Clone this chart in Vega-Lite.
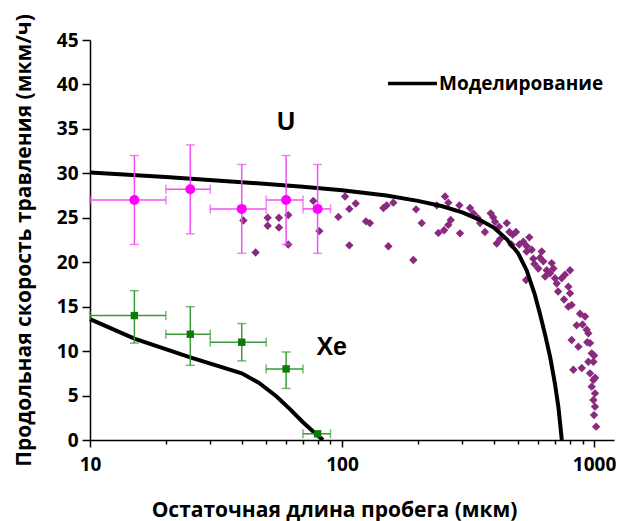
{
  "$schema": "https://vega.github.io/schema/vega-lite/v6.json",
  "width": 524,
  "height": 400,
  "autosize": {"type": "none"},
  "padding": {"left": 90, "top": 40, "right": 5, "bottom": 81},
  "background": "white",
  "config": {
    "view": {"stroke": null},
    "font": "Open Sans",
    "axis": {
      "grid": false,
      "domainColor": "black",
      "domainWidth": 1.5,
      "tickColor": "black",
      "tickWidth": 1.5,
      "labelColor": "black",
      "labelFont": "Open Sans",
      "labelFontWeight": "bold",
      "labelFontSize": 19,
      "titleColor": "black",
      "titleFont": "Open Sans",
      "titleFontWeight": "bold",
      "titleFontSize": 21
    }
  },
  "datasets": {
    "model": [
      {"series": "U", "label": "Моделирование", "x": 10, "y": 30.1},
      {"series": "U", "label": "Моделирование", "x": 20, "y": 29.6},
      {"series": "U", "label": "Моделирование", "x": 40, "y": 29.0},
      {"series": "U", "label": "Моделирование", "x": 70, "y": 28.5},
      {"series": "U", "label": "Моделирование", "x": 100, "y": 28.1},
      {"series": "U", "label": "Моделирование", "x": 150, "y": 27.5},
      {"series": "U", "label": "Моделирование", "x": 200, "y": 26.9},
      {"series": "U", "label": "Моделирование", "x": 250, "y": 26.3},
      {"series": "U", "label": "Моделирование", "x": 300, "y": 25.6},
      {"series": "U", "label": "Моделирование", "x": 350, "y": 24.8},
      {"series": "U", "label": "Моделирование", "x": 400, "y": 23.9},
      {"series": "U", "label": "Моделирование", "x": 450, "y": 22.6},
      {"series": "U", "label": "Моделирование", "x": 500, "y": 21.0},
      {"series": "U", "label": "Моделирование", "x": 540, "y": 19.1},
      {"series": "U", "label": "Моделирование", "x": 580, "y": 16.5},
      {"series": "U", "label": "Моделирование", "x": 610, "y": 14.2},
      {"series": "U", "label": "Моделирование", "x": 640, "y": 11.8},
      {"series": "U", "label": "Моделирование", "x": 670, "y": 9.3},
      {"series": "U", "label": "Моделирование", "x": 700, "y": 6.3},
      {"series": "U", "label": "Моделирование", "x": 722, "y": 3.7},
      {"series": "U", "label": "Моделирование", "x": 745, "y": 0},
      {"series": "Xe", "label": "Моделирование", "x": 10, "y": 13.6},
      {"series": "Xe", "label": "Моделирование", "x": 15, "y": 11.4},
      {"series": "Xe", "label": "Моделирование", "x": 25, "y": 9.3},
      {"series": "Xe", "label": "Моделирование", "x": 40, "y": 7.5},
      {"series": "Xe", "label": "Моделирование", "x": 47, "y": 6.4},
      {"series": "Xe", "label": "Моделирование", "x": 55, "y": 4.9},
      {"series": "Xe", "label": "Моделирование", "x": 62, "y": 3.5},
      {"series": "Xe", "label": "Моделирование", "x": 70, "y": 2.0},
      {"series": "Xe", "label": "Моделирование", "x": 78, "y": 0.8},
      {"series": "Xe", "label": "Моделирование", "x": 84, "y": 0}
    ],
    "uScatter": [
      {"x": 40.6, "y": 24.7}, {"x": 45.4, "y": 21.1}, {"x": 50.7, "y": 25.0}, {"x": 50.7, "y": 24.1},
      {"x": 56.2, "y": 25.0}, {"x": 56.2, "y": 23.9}, {"x": 61.2, "y": 25.3}, {"x": 61.2, "y": 22.0},
      {"x": 76.9, "y": 26.9}, {"x": 81.3, "y": 23.5}, {"x": 96.7, "y": 25.1}, {"x": 102.8, "y": 27.4},
      {"x": 106.9, "y": 26.0}, {"x": 106.9, "y": 21.9}, {"x": 113.3, "y": 26.6}, {"x": 124.5, "y": 24.6},
      {"x": 129, "y": 24.4}, {"x": 152.7, "y": 21.8}, {"x": 145.9, "y": 26.1}, {"x": 150.4, "y": 26.4},
      {"x": 159.8, "y": 26.7}, {"x": 191.9, "y": 20.25}, {"x": 196.7, "y": 25.95}, {"x": 207.1, "y": 24.4},
      {"x": 237.6, "y": 26.4}, {"x": 256.4, "y": 27.4}, {"x": 264.2, "y": 26.7}, {"x": 241.1, "y": 23.3},
      {"x": 254, "y": 23.6}, {"x": 264, "y": 24.2}, {"x": 270, "y": 24.75}, {"x": 293.8, "y": 23.25},
      {"x": 292.2, "y": 26.4}, {"x": 322, "y": 26.1}, {"x": 332, "y": 25.5}, {"x": 353, "y": 24.4},
      {"x": 369, "y": 23.4}, {"x": 389, "y": 25.5}, {"x": 398, "y": 25.05}, {"x": 404.6, "y": 24.55},
      {"x": 411, "y": 22.1}, {"x": 424, "y": 22.6}, {"x": 450.5, "y": 24.4}, {"x": 461.4, "y": 23.4},
      {"x": 475.7, "y": 23.1}, {"x": 490, "y": 23.4}, {"x": 524, "y": 22.3}, {"x": 540.7, "y": 21.8},
      {"x": 553.6, "y": 22.8}, {"x": 537, "y": 18.0}, {"x": 540, "y": 21.2}, {"x": 566, "y": 21.4},
      {"x": 574, "y": 20.4}, {"x": 601, "y": 19.3}, {"x": 620, "y": 21.2}, {"x": 629, "y": 20.1},
      {"x": 649, "y": 19.1}, {"x": 669, "y": 18.75}, {"x": 679, "y": 19.9}, {"x": 690, "y": 19.3},
      {"x": 700, "y": 18.2}, {"x": 711, "y": 17.6}, {"x": 744, "y": 18.2}, {"x": 767, "y": 18.6},
      {"x": 803, "y": 19.1}, {"x": 791, "y": 17.25}, {"x": 803, "y": 16.5}, {"x": 815, "y": 15.2},
      {"x": 791, "y": 15.0}, {"x": 853, "y": 12.9}, {"x": 921, "y": 13.9}, {"x": 935, "y": 12.4},
      {"x": 949, "y": 12.0}, {"x": 815, "y": 11.25}, {"x": 867, "y": 10.5}, {"x": 964, "y": 10.9},
      {"x": 979, "y": 9.75}, {"x": 949, "y": 8.8}, {"x": 994, "y": 8.8}, {"x": 894, "y": 8.1},
      {"x": 828, "y": 7.9}, {"x": 964, "y": 7.5}, {"x": 994, "y": 6.75}, {"x": 979, "y": 6.0},
      {"x": 1009, "y": 5.25}, {"x": 994, "y": 4.5}, {"x": 1019, "y": 1.5}, {"x": 1009, "y": 3.75},
      {"x": 345, "y": 25.0}, {"x": 420, "y": 24.0}, {"x": 470, "y": 22.0}, {"x": 505, "y": 22.0},
      {"x": 580, "y": 19.8}, {"x": 610, "y": 20.5}, {"x": 640, "y": 18.4}, {"x": 720, "y": 16.7},
      {"x": 760, "y": 15.8}, {"x": 880, "y": 14.2}, {"x": 900, "y": 13.0}, {"x": 940, "y": 11.0},
      {"x": 1000, "y": 9.5}, {"x": 1010, "y": 7.0}, {"x": 1000, "y": 2.8}
    ],
    "ions": [
      {"ion": "U", "x": 15, "xLo": 10, "xHi": 20, "y": 27.0, "yLo": 22.0, "yHi": 32.0},
      {"ion": "U", "x": 25, "xLo": 20, "xHi": 30, "y": 28.2, "yLo": 23.2, "yHi": 33.2},
      {"ion": "U", "x": 40, "xLo": 30, "xHi": 50, "y": 26.0, "yLo": 21.0, "yHi": 31.0},
      {"ion": "U", "x": 60, "xLo": 50, "xHi": 70, "y": 27.0, "yLo": 22.0, "yHi": 32.0},
      {"ion": "U", "x": 80, "xLo": 70, "xHi": 90, "y": 26.0, "yLo": 21.0, "yHi": 31.0},
      {"ion": "Xe", "x": 15, "xLo": 10, "xHi": 20, "y": 14.0, "yLo": 10.9, "yHi": 16.8},
      {"ion": "Xe", "x": 25, "xLo": 20, "xHi": 30, "y": 11.9, "yLo": 8.4, "yHi": 15.0},
      {"ion": "Xe", "x": 40, "xLo": 30, "xHi": 50, "y": 11.0, "yLo": 8.9, "yHi": 13.1},
      {"ion": "Xe", "x": 60, "xLo": 50, "xHi": 70, "y": 8.0, "yLo": 5.8, "yHi": 9.9},
      {"ion": "Xe", "x": 80, "xLo": 70, "xHi": 90, "y": 0.7, "yLo": 0.7, "yHi": 0.7}
    ],
    "ionLabels": [
      {"x": 60, "y": 35.8, "text": "U"},
      {"x": 91, "y": 10.5, "text": "Xe"}
    ]
  },
  "layer": [
    {
      "data": {"name": "uScatter"},
      "mark": {"type": "point", "shape": "diamond", "filled": true, "size": 70, "color": "#8a2a7e", "opacity": 1},
      "encoding": {
        "x": {
          "field": "x", "type": "quantitative",
          "title": "Остаточная длина пробега (мкм)",
          "scale": {"type": "log", "domain": [10, 1200], "nice": false},
          "axis": {
            "values": [10, 20, 30, 40, 50, 60, 70, 80, 90, 100, 200, 300, 400, 500, 600, 700, 800, 900, 1000],
            "format": "d",
            "labelExpr": "(datum.value == 10 || datum.value == 100 || datum.value == 1000) ? datum.label : ''",
            "tickSize": {"condition": {"test": "datum.value == 10 || datum.value == 100 || datum.value == 1000", "value": 7}, "value": 4},
            "labelPadding": 8,
            "labelFlush": false,
            "labelOverlap": false,
            "titlePadding": 25,
            "titleX": 244
          }
        },
        "y": {
          "field": "y", "type": "quantitative",
          "title": "Продольная скорость травления (мкм/ч)",
          "scale": {"domain": [0, 45], "nice": false},
          "axis": {
            "values": [0, 2.5, 5, 7.5, 10, 12.5, 15, 17.5, 20, 22.5, 25, 27.5, 30, 32.5, 35, 37.5, 40, 42.5, 45],
            "labelExpr": "datum.value % 5 == 0 ? datum.label : ''",
            "tickSize": {"condition": {"test": "datum.value % 5 == 0", "value": 8}, "value": 4},
            "labelPadding": 4,
            "labelOverlap": false,
            "titlePadding": 22
          }
        }
      }
    },
    {
      "data": {"name": "model"},
      "mark": {"type": "line", "strokeWidth": 4, "strokeCap": "butt"},
      "encoding": {
        "x": {"field": "x", "type": "quantitative", "title": "Остаточная длина пробега (мкм)"},
        "y": {"field": "y", "type": "quantitative", "title": "Продольная скорость травления (мкм/ч)"},
        "detail": {"field": "series"},
        "color": {
          "field": "label", "type": "nominal",
          "scale": {"domain": ["Моделирование"], "range": ["black"]},
          "legend": {
            "title": null,
            "orient": "none",
            "legendX": 296,
            "legendY": 17,
            "padding": 0,
            "symbolType": "stroke",
            "symbolSize": 2400,
            "symbolStrokeWidth": 3.5,
            "labelFont": "Open Sans",
            "labelFontWeight": "bold",
            "labelFontSize": 19,
            "labelColor": "black",
            "labelOffset": 0,
            "labelLimit": 400
          }
        }
      }
    },
    {
      "data": {"name": "ions"},
      "transform": [{"filter": "datum.ion == 'U'"}],
      "mark": {"type": "errorbar", "color": "#f050f0", "thickness": 1.5, "ticks": {"size": 9, "thickness": 1.5, "color": "#f050f0"}},
      "encoding": {
        "x": {"field": "x", "type": "quantitative", "title": "Остаточная длина пробега (мкм)"},
        "y": {"field": "yLo", "type": "quantitative", "title": "Продольная скорость травления (мкм/ч)"},
        "y2": {"field": "yHi"}
      }
    },
    {
      "data": {"name": "ions"},
      "transform": [{"filter": "datum.ion == 'U'"}],
      "mark": {"type": "errorbar", "color": "#f050f0", "thickness": 1.5, "ticks": {"size": 9, "thickness": 1.5, "color": "#f050f0"}},
      "encoding": {
        "y": {"field": "y", "type": "quantitative", "title": "Продольная скорость травления (мкм/ч)"},
        "x": {"field": "xLo", "type": "quantitative", "title": "Остаточная длина пробега (мкм)"},
        "x2": {"field": "xHi"}
      }
    },
    {
      "data": {"name": "ions"},
      "transform": [{"filter": "datum.ion == 'U'"}],
      "mark": {"type": "point", "shape": "circle", "filled": true, "size": 100, "color": "#ff00ff", "opacity": 1},
      "encoding": {
        "x": {"field": "x", "type": "quantitative", "title": "Остаточная длина пробега (мкм)"},
        "y": {"field": "y", "type": "quantitative", "title": "Продольная скорость травления (мкм/ч)"}
      }
    },
    {
      "data": {"name": "ions"},
      "transform": [{"filter": "datum.ion == 'Xe' && datum.yHi > datum.yLo"}],
      "mark": {"type": "errorbar", "color": "#3a993a", "thickness": 1.5, "ticks": {"size": 9, "thickness": 1.5, "color": "#3a993a"}},
      "encoding": {
        "x": {"field": "x", "type": "quantitative", "title": "Остаточная длина пробега (мкм)"},
        "y": {"field": "yLo", "type": "quantitative", "title": "Продольная скорость травления (мкм/ч)"},
        "y2": {"field": "yHi"}
      }
    },
    {
      "data": {"name": "ions"},
      "transform": [{"filter": "datum.ion == 'Xe'"}],
      "mark": {"type": "errorbar", "color": "#3a993a", "thickness": 1.5, "ticks": {"size": 9, "thickness": 1.5, "color": "#3a993a"}},
      "encoding": {
        "y": {"field": "y", "type": "quantitative", "title": "Продольная скорость травления (мкм/ч)"},
        "x": {"field": "xLo", "type": "quantitative", "title": "Остаточная длина пробега (мкм)"},
        "x2": {"field": "xHi"}
      }
    },
    {
      "data": {"name": "ions"},
      "transform": [{"filter": "datum.ion == 'Xe'"}],
      "mark": {"type": "point", "shape": "square", "filled": true, "size": 55, "color": "#0a7a0a", "opacity": 1},
      "encoding": {
        "x": {"field": "x", "type": "quantitative", "title": "Остаточная длина пробега (мкм)"},
        "y": {"field": "y", "type": "quantitative", "title": "Продольная скорость травления (мкм/ч)"}
      }
    },
    {
      "data": {"name": "ionLabels"},
      "mark": {"type": "text", "font": "Liberation Sans", "fontWeight": "bold", "fontSize": 25, "color": "black", "align": "center", "baseline": "middle"},
      "encoding": {
        "x": {"field": "x", "type": "quantitative", "title": "Остаточная длина пробега (мкм)"},
        "y": {"field": "y", "type": "quantitative", "title": "Продольная скорость травления (мкм/ч)"},
        "text": {"field": "text"}
      }
    }
  ]
}
